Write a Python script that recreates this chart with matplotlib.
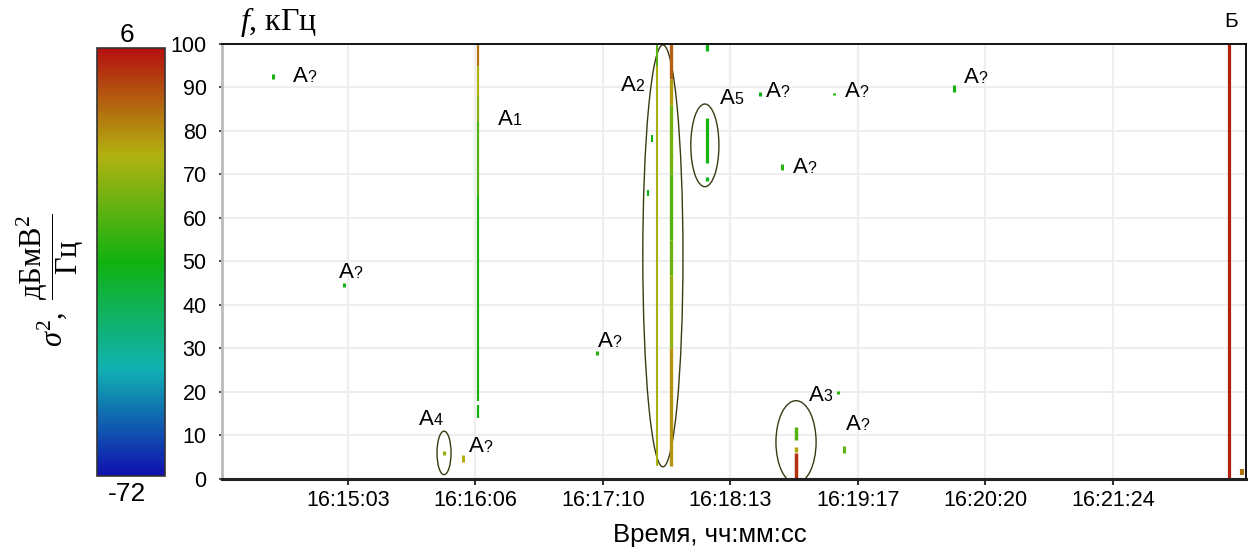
import numpy as np
import matplotlib
matplotlib.use("Agg")
from matplotlib import pyplot as plt
from matplotlib.colors import LinearSegmentedColormap, Normalize
from matplotlib.patches import Ellipse
import matplotlib.cm as cm

plt.rcParams['font.family'] = ['Liberation Sans', 'DejaVu Sans']
plt.rcParams['mathtext.fontset'] = 'custom'
plt.rcParams['mathtext.rm'] = 'Liberation Serif'
plt.rcParams['mathtext.it'] = 'Liberation Serif:italic'

# time axis: seconds after 16:14:00
tick_pos = [63, 126, 190, 253, 317, 380, 444]
tick_lab = ["16:15:03", "16:16:06", "16:17:10", "16:18:13", "16:19:17", "16:20:20", "16:21:24"]
vmin, vmax = -72, 6

# spectral components: time (s), f low, f high (kHz), level (dBmV^2/Hz), width
seg_t = [127.5, 127.5, 127.5, 127.5, 127.5, 127.5,
         216.5, 216.5,
         223.6, 223.6, 223.6, 223.6, 223.6, 223.6, 223.6,
         214.3, 212.0,
         241.5, 241.5, 241.5,
         285.9, 285.9, 285.9,
         501.5, 508.0]
seg_lo = [95, 88, 82, 65, 18, 14,
          95, 3,
          92, 86, 70, 55, 47, 30, 3,
          77.5, 65.0,
          72.6, 68.5, 98.5,
          9.0, 6.2, 0.0,
          0.0, 1.0]
seg_hi = [100, 95, 88, 82, 65, 17,
          100, 95,
          100, 92, 86, 70, 55, 47, 30,
          79.0, 66.5,
          83.0, 69.5, 100,
          12.0, 7.4, 6.0,
          100, 2.2]
seg_val = [-6, -14, -19, -25, -31, -33,
           -24, -15,
           -4, -11, -21, -25, -22, -17, -10,
           -33, -33,
           -32, -33, -33,
           -25, -12, 2,
           4, -6]
seg_w = [1.6, 1.6, 1.6, 1.6, 1.6, 1.6,
         1.5, 1.5,
         2.4, 2.4, 2.4, 2.4, 2.4, 2.4, 2.4,
         1.5, 1.5,
         2.3, 2.3, 2.3,
         2.5, 2.5, 2.5,
         2.3, 3.0]

# isolated short components
pt_t = [25.4, 60.8, 110.6, 120.0, 186.7, 268.0, 305.0, 279.0, 364.5, 306.8, 310.0]
pt_lo = [92.0, 44.1, 5.6, 4.0, 28.5, 88.0, 88.2, 71.0, 89.0, 19.5, 6.0]
pt_hi = [93.0, 45.1, 6.4, 5.5, 29.5, 89.0, 88.8, 72.5, 90.5, 20.2, 7.5]
pt_val = [-33, -33, -18, -13, -30, -34, -30, -30, -33, -30, -24]

# groups marked with ellipses: centre time, centre f, width (s), height (kHz)
ell_t = [110.6, 219.6, 240.5, 285.9]
ell_f = [6.0, 51.3, 76.7, 8.5]
ell_w = [7.0, 20.0, 14.0, 20.0]
ell_h = [10.0, 97.0, 19.0, 19.0]

# labels: subscript, time, f
lab_sub = ["?", "1", "?", "4", "?", "?", "2", "5", "?", "?", "?", "?", "3", "?"]
lab_t = [35.4, 137.5, 58.3, 98.1, 123.0, 187.3, 198.7, 248.0, 270.9, 310.3, 284.4, 369.5, 292.3, 310.8]
lab_f = [91.3, 81.4, 46.2, 12.4, 6.2, 30.3, 89.2, 86.2, 87.8, 87.8, 70.3, 91.0, 17.9, 11.3]

cmap = LinearSegmentedColormap.from_list("spec", [
    (0.00, "#1010ae"),
    (0.25, "#10b2b2"),
    (0.50, "#10b210"),
    (0.75, "#b2b210"),
    (1.00, "#b41010"),
])
norm = Normalize(vmin, vmax)

fig = plt.figure(figsize=(12.49, 5.49), dpi=100)
ax = fig.add_axes([0.1777, 0.1275, 0.8199, 0.7924])

ax.set_xlim(0, 510)
ax.set_ylim(0, 100)
ax.set_xticks(tick_pos)
ax.set_xticklabels(tick_lab, fontsize=15.5)
ax.set_yticks(range(0, 101, 10))
ax.tick_params(axis='y', labelsize=15.5, length=2, width=1.5, color='#555555', pad=9)
ax.tick_params(axis='x', length=4, width=1.5, color='#333333', pad=4)
ax.grid(True, color='#eeeeee', lw=1.5)
ax.set_axisbelow(True)
for s in ['top', 'right']:
    ax.spines[s].set_color('black')
    ax.spines[s].set_linewidth(1.3)
ax.spines['bottom'].set_color('#222222')
ax.spines['bottom'].set_linewidth(2.2)
ax.spines['left'].set_color('#bbbbbb')
ax.spines['left'].set_linewidth(2)

for t, lo, hi, v, w in zip(seg_t, seg_lo, seg_hi, seg_val, seg_w):
    ax.vlines(t, lo, hi, colors=[cmap(norm(v))], lw=w)
for t, lo, hi, v in zip(pt_t, pt_lo, pt_hi, pt_val):
    ax.vlines(t, lo, hi, colors=[cmap(norm(v))], lw=2.2)

for t, f, w, h in zip(ell_t, ell_f, ell_w, ell_h):
    ax.add_patch(Ellipse((t, f), w, h, fill=False, ec='#3b3b12', lw=1.0))

for sub, t, f in zip(lab_sub, lab_t, lab_f):
    ax.text(t, f, "A", fontsize=16, va='baseline', ha='left')
    ax.annotate(sub, (t, f), xytext=(10.5, 0), textcoords='offset points',
                fontsize=11.5, va='baseline', ha='left')

ax.text(499.0, 104.0, "Б", fontsize=15, va='baseline', ha='left', clip_on=False)
ax.text(0.0176, 1.012, r"$f$, кГц", transform=ax.transAxes, fontsize=23,
        va='bottom', ha='left', family=['Liberation Serif', 'DejaVu Serif'])

fig.text(710 / 1249, 1 - 535 / 549, "Время, чч:мм:сс", fontsize=18.5, ha='center', va='center')

# colour bar
cax = fig.add_axes([0.0777, 0.133, 0.0544, 0.7796])
sm = cm.ScalarMappable(norm=norm, cmap=cmap)
cb = fig.colorbar(sm, cax=cax)
cb.set_ticks([])
cb.outline.set_edgecolor('#333333')
cb.outline.set_linewidth(1.2)
fig.text(127 / 1249, 1 - 35 / 549, "6", fontsize=19, ha='center', va='center')
fig.text(127 / 1249, 1 - 494 / 549, "-72", fontsize=19, ha='center', va='center')
fig.text(0.040, 0.49, r"$\sigma^2,\ \dfrac{\mathrm{дБмВ}^2}{\mathrm{Гц}}$", rotation=90,
         fontsize=22, ha='center', va='center')

fig.savefig("out.png", dpi=100)
